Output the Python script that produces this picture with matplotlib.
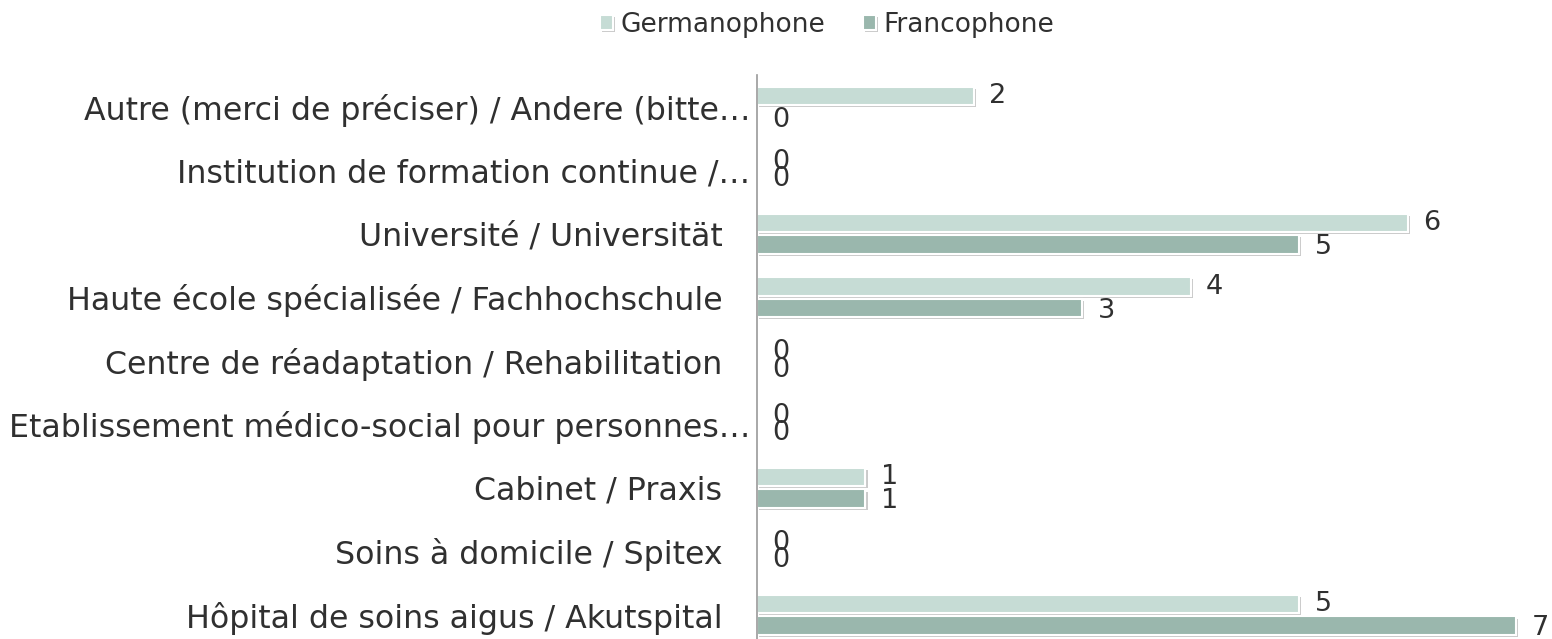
import numpy as np
import matplotlib.pyplot as plt
import matplotlib.patheffects as pe

# categories listed bottom -> top, as drawn
categories = [
    "Hôpital de soins aigus / Akutspital",
    "Soins à domicile / Spitex",
    "Cabinet / Praxis",
    "Etablissement médico-social pour personnes…",
    "Centre de réadaptation / Rehabilitation",
    "Haute école spécialisée / Fachhochschule",
    "Université / Universität",
    "Institution de formation continue /…",
    "Autre (merci de préciser) / Andere (bitte…",
]
germanophone = [5, 0, 1, 0, 0, 4, 6, 0, 2]
francophone = [7, 0, 1, 0, 0, 3, 5, 0, 0]

LIGHT = "#C6DCD5"
DARK = "#9AB7AD"
TEXT = "#303030"

fig = plt.figure(figsize=(15.52, 6.39), dpi=100)
ax = fig.add_axes([757 / 1552, 0.0, 1 - 757 / 1552, 1 - 75 / 639])

y = np.arange(len(categories))
off = 0.17
h = 0.29
shadow = [pe.SimplePatchShadow(offset=(1.5, -1.5), shadow_rgbFace="#a8a8a8", alpha=0.6), pe.Normal()]

b1 = ax.barh(y + off, germanophone, height=h, color=LIGHT, edgecolor="white",
             linewidth=1.5, label="Germanophone", path_effects=shadow)
b2 = ax.barh(y - off, francophone, height=h, color=DARK, edgecolor="white",
             linewidth=1.5, label="Francophone", path_effects=shadow)

# value labels; when both bars are empty the two labels sit a little closer
for yi, g, f in zip(y, germanophone, francophone):
    both_zero = g == 0 and f == 0
    ax.annotate(str(g), (g, yi + off), xytext=(11, -1.5 if both_zero else 0),
                textcoords="offset points", ha="left", va="center",
                fontsize=19.5, color=TEXT)
    ax.annotate(str(f), (f, yi - off), xytext=(11, 1.5 if both_zero else -2),
                textcoords="offset points", ha="left", va="center",
                fontsize=19.5, color=TEXT)

ax.set_xlim(0, 7.33)
ax.set_ylim(-0.38, 8.5)
ax.set_xticks([])
ax.set_yticks(y)
ax.set_yticklabels(categories, fontsize=22.75, color=TEXT)
ax.tick_params(axis="y", length=0)
for tick, lab in zip(ax.yaxis.get_major_ticks(), categories):
    tick.set_pad(5 if lab.endswith("…") else 25)

for s in ["top", "right", "bottom"]:
    ax.spines[s].set_visible(False)
ax.spines["left"].set_color("#999999")
ax.spines["left"].set_linewidth(1.2)

fig.legend(handles=[b1, b2], loc="center", bbox_to_anchor=(0.533, 1 - 25 / 639),
           ncol=2, frameon=False, fontsize=19, handlelength=0.5, handleheight=0.5,
           handletextpad=0.3, columnspacing=1.4, labelcolor=TEXT)

fig.savefig("out.png", dpi=100)
